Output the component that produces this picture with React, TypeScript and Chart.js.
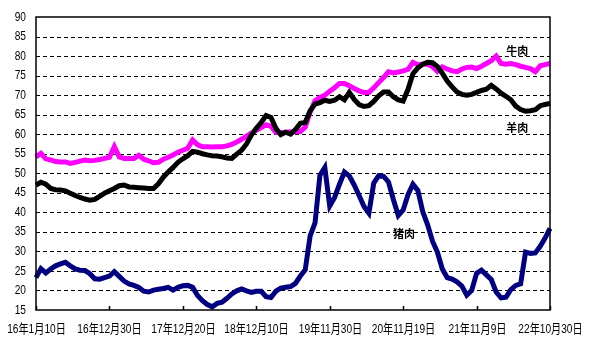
import React, { useEffect, useRef } from "react";
import { Chart, registerables } from "chart.js";

Chart.register(...registerables);

// x tick labels, one every 15 samples
const tickLabels = [
  "16年1月10日", "16年12月30日", "17年12月20日", "18年12月10日",
  "19年11月30日", "20年11月19日", "21年11月9日", "22年10月30日",
];
const samplesPerTick = 15;
const yMin = 15;
const yMax = 90;
const yStep = 5;

const pork = [
  23.3, 25.6, 24.5, 25.5, 26.3, 26.8, 27.2, 26.3, 25.5, 25.2,
  25.1, 24.3, 23.0, 22.9, 23.3, 23.7, 24.8, 23.6, 22.4, 21.7,
  21.3, 20.8, 19.8, 19.6, 20.1, 20.3, 20.5, 20.8, 20.1, 20.8,
  21.2, 21.3, 20.8, 18.7, 17.4, 16.4, 15.8, 16.7, 17.0, 18.0,
  19.1, 19.9, 20.4, 19.9, 19.5, 19.8, 19.8, 18.4, 18.2, 19.8,
  20.6, 20.8, 21.0, 21.8, 23.7, 25.3, 34.0, 37.3, 49.5, 51.5,
  41.6, 43.8, 47.2, 50.3, 49.3, 47.0, 44.3, 41.5, 39.8, 47.5,
  49.4, 49.2, 47.8, 43.3, 39.2, 40.6, 44.5, 47.2, 45.6, 40.2,
  36.8, 32.6, 29.8, 25.5, 23.3, 22.9, 22.2, 21.1, 18.8, 20.0,
  24.4, 25.2, 24.0, 22.8, 19.6, 18.1, 18.3, 20.2, 21.3, 21.7,
  29.8, 29.5, 29.6, 31.3, 33.4, 35.9,
];

const beef = [
  54.2, 55.1, 53.7, 53.4, 53.0, 52.9, 52.9, 52.5, 52.8, 53.1,
  53.4, 53.2, 53.3, 53.5, 53.8, 54.1, 56.8, 54.2, 53.8, 53.8,
  53.8, 54.6, 53.6, 53.2, 52.7, 52.8, 53.6, 54.1, 54.7, 55.4,
  55.9, 56.4, 58.5, 57.3, 56.8, 56.8, 56.7, 56.8, 56.8, 57.0,
  57.4, 58.0, 58.7, 59.5, 60.3, 61.0, 61.7, 62.4, 62.0, 60.5,
  60.4, 60.5, 60.6, 60.6, 60.7, 61.8, 65.6, 68.6, 69.4, 70.0,
  71.0, 71.9, 73.0, 73.0, 72.4, 71.7, 71.1, 70.7, 70.7, 71.9,
  73.2, 74.5, 76.0, 75.7, 75.9, 76.2, 76.6, 78.4, 77.8, 77.9,
  77.9, 77.3, 76.1, 77.2, 76.7, 76.2, 76.0, 76.7, 77.1, 77.2,
  76.8, 77.4, 78.1, 78.8, 80.0, 78.1, 77.9, 78.1, 77.8, 77.4,
  77.1, 76.8, 76.0, 77.5, 77.8, 78.1,
];

const mutton = [
  47.0, 47.7, 47.2, 46.1, 45.8, 45.7, 45.5, 44.9, 44.3, 43.8,
  43.4, 43.1, 43.3, 44.1, 44.9, 45.5, 46.1, 46.8, 47.0, 46.5,
  46.4, 46.3, 46.2, 46.1, 46.1, 47.3, 49.0, 50.3, 51.5, 52.8,
  53.7, 54.5, 55.6, 55.4, 55.0, 54.7, 54.5, 54.4, 54.2, 53.9,
  53.8, 54.9, 55.9, 57.5, 59.8, 61.5, 63.0, 64.8, 64.3, 61.5,
  59.9, 60.5, 60.0, 61.2, 62.8, 63.0, 66.0, 67.7, 68.1, 68.7,
  68.4, 68.7, 69.6, 68.8, 70.7, 68.9, 67.6, 67.1, 67.3, 68.4,
  69.8, 70.8, 70.8, 69.6, 68.8, 68.5, 71.5, 75.5, 77.0, 77.9,
  78.4, 78.3, 77.3, 75.6, 73.6, 72.1, 70.8, 70.2, 70.0, 70.2,
  70.7, 71.2, 71.5, 72.5, 71.6, 70.5, 69.7, 68.8, 67.2, 66.3,
  65.9, 66.0, 66.3, 67.3, 67.6, 67.9,
];

const seriesNames = ["羊肉", "牛肉", "猪肉"];

const tickFont = "13px 'Liberation Sans', 'Noto Sans CJK SC', sans-serif";
const narrow = 0.78;

const framePlugin = {
  id: "frameAndGrid",
  beforeDatasetsDraw(chart: any) {
    const { ctx, chartArea } = chart;
    const y = chart.scales.y;
    ctx.save();
    ctx.strokeStyle = "#000";
    ctx.lineWidth = 1;
    ctx.setLineDash([4, 3]);
    for (let v = yMin + yStep; v < yMax; v += yStep) {
      const py = Math.round(y.getPixelForValue(v)) + 0.5;
      ctx.beginPath();
      ctx.moveTo(chartArea.left, py);
      ctx.lineTo(chartArea.right, py);
      ctx.stroke();
    }
    ctx.restore();
  },
  afterDraw(chart: any) {
    const { ctx, chartArea } = chart;
    const x = chart.scales.x;
    const y = chart.scales.y;
    ctx.save();
    ctx.strokeStyle = "#000";
    ctx.lineWidth = 1.5;
    ctx.setLineDash([]);
    ctx.strokeRect(chartArea.left, chartArea.top, chartArea.right - chartArea.left, chartArea.bottom - chartArea.top);
    ctx.fillStyle = "#000";
    ctx.font = tickFont;
    ctx.textBaseline = "middle";
    for (let i = 0; i < tickLabels.length; i++) {
      const px = Math.round(x.getPixelForValue(i * samplesPerTick)) + 0.5;
      ctx.beginPath();
      ctx.moveTo(px, chartArea.bottom);
      ctx.lineTo(px, chartArea.bottom - 4);
      ctx.stroke();
      ctx.save();
      ctx.translate(px, chartArea.bottom + 19);
      ctx.scale(narrow, 1);
      ctx.textAlign = "center";
      ctx.fillText(tickLabels[i], 0, 0);
      ctx.restore();
    }
    for (let v = yMin; v <= yMax; v += yStep) {
      ctx.save();
      ctx.translate(chartArea.left - 10, y.getPixelForValue(v));
      ctx.scale(narrow, 1);
      ctx.textAlign = "right";
      ctx.fillText(String(v), 0, 0);
      ctx.restore();
    }
    // series name labels
    ctx.font = "bold 11px 'Noto Sans CJK SC', sans-serif";
    ctx.textAlign = "center";
    const notes: [string, number, number][] = [
      [seriesNames[1], 98.3, 81.3],
      [seriesNames[0], 98.3, 61.6],
      [seriesNames[2], 75.2, 34.4],
    ];
    for (const [t, i, v] of notes) {
      ctx.fillText(t, x.getPixelForValue(i), y.getPixelForValue(v));
    }
    ctx.restore();
  },
};

export default function App() {
  const ref = useRef<HTMLCanvasElement>(null);
  useEffect(() => {
    if (!ref.current) return;
    const categories = pork.map((_, i) => String(i));
    const chart = new Chart(ref.current, {
      type: "line",
      data: {
        labels: categories,
        datasets: [
          { label: seriesNames[0], data: mutton, borderColor: "#000000", borderWidth: 5, pointRadius: 0, tension: 0, order: 0 },
          { label: seriesNames[1], data: beef, borderColor: "#FF00FF", borderWidth: 5, pointRadius: 0, tension: 0, order: 1 },
          { label: seriesNames[2], data: pork, borderColor: "#000080", borderWidth: 5, pointRadius: 0, tension: 0, order: 2 },
        ],
      },
      options: {
        animation: false,
        responsive: true,
        maintainAspectRatio: false,
        layout: { padding: { top: 17, right: 50, left: 0, bottom: 0 } },
        plugins: { legend: { display: false }, tooltip: { enabled: false } },
        scales: {
          x: {
            type: "category",
            offset: false,
            grid: { display: false, drawTicks: false },
            border: { display: false },
            afterFit: (s: any) => { s.height = 39; },
            ticks: { display: false, autoSkip: false },
          },
          y: {
            min: yMin,
            max: yMax,
            grid: { display: false, drawTicks: false },
            border: { display: false },
            afterFit: (s: any) => { s.width = 36; },
            ticks: { display: false, stepSize: yStep },
          },
        },
      },
      plugins: [framePlugin],
    });
    return () => chart.destroy();
  }, []);
  return (
    <div style={{ position: "absolute", left: 0, top: 0, width: 600, height: 349 }}>
      <canvas ref={ref} />
    </div>
  );
}
